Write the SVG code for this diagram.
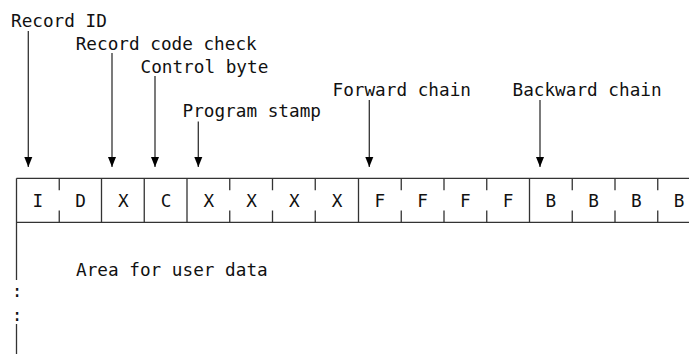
<svg xmlns="http://www.w3.org/2000/svg" width="689" height="354" viewBox="0 0 689 354">
<style>
text{font-family:"DejaVu Sans Mono","Liberation Mono",monospace;font-size:17.7px;fill:#111}
.c{text-anchor:middle}
.ln{stroke:#333;stroke-width:1.3;fill:none}
.ar{stroke:#333;stroke-width:1.3;fill:none;marker-end:url(#ah)}
</style>
<defs>
<marker id="ah" markerUnits="userSpaceOnUse" markerWidth="10" markerHeight="9" refX="10" refY="4.5" orient="auto">
<path d="M0,0.5 L10,4.5 L0,8.5 z" fill="#000"/>
</marker>
</defs>
<rect width="689" height="354" fill="#fff"/>
<g id="labels">
<text x="11" y="26.8">Record ID</text>
<text x="75.7" y="49.5">Record code check</text>
<text x="140.5" y="72.5">Control byte</text>
<text x="182.5" y="116.8">Program stamp</text>
<text x="332.5" y="95.7">Forward chain</text>
<text x="512.5" y="95.7">Backward chain</text>
</g>
<g id="connectors">
<line class="ar" x1="28.3" y1="31" x2="28.3" y2="167"/>
<line class="ar" x1="112" y1="53" x2="112" y2="167"/>
<line class="ar" x1="155" y1="76" x2="155" y2="167"/>
<line class="ar" x1="198.3" y1="121.5" x2="198.3" y2="167"/>
<line class="ar" x1="369.3" y1="100" x2="369.3" y2="167"/>
<line class="ar" x1="540" y1="100" x2="540" y2="167"/>
</g>
<g id="record">
<line class="ln" x1="16.5" y1="178.3" x2="689" y2="178.3"/>
<line class="ln" x1="16.5" y1="222.3" x2="689" y2="222.3"/>
<line class="ln" x1="16.5" y1="178.3" x2="16.5" y2="280"/>
<line class="ln" x1="16.5" y1="324" x2="16.5" y2="354"/>
<path class="ln" d="M101.5,178.3V222.3 M144.25,178.3V222.3 M187,178.3V222.3 M358.5,178.3V222.3 M529.5,178.3V222.3"/>
<path class="ln" d="M59.25,178.3v12 M59.25,210.5v11.8 M229.75,178.3v12 M229.75,210.5v11.8 M272.5,178.3v12 M272.5,210.5v11.8 M315.25,178.3v12 M315.25,210.5v11.8 M401.25,178.3v12 M401.25,210.5v11.8 M444,178.3v12 M444,210.5v11.8 M486.75,178.3v12 M486.75,210.5v11.8 M572.25,178.3v12 M572.25,210.5v11.8 M615,178.3v12 M615,210.5v11.8 M657.75,178.3v12 M657.75,210.5v11.8"/>
<text class="c" x="37.9" y="207.3">I</text>
<text class="c" x="80.6" y="207.3">D</text>
<text class="c" x="123.4" y="207.3">X</text>
<text class="c" x="166.1" y="207.3">C</text>
<text class="c" x="208.9" y="207.3">X</text>
<text class="c" x="251.6" y="207.3">X</text>
<text class="c" x="294.4" y="207.3">X</text>
<text class="c" x="337.1" y="207.3">X</text>
<text class="c" x="379.9" y="207.3">F</text>
<text class="c" x="422.6" y="207.3">F</text>
<text class="c" x="465.4" y="207.3">F</text>
<text class="c" x="508.1" y="207.3">F</text>
<text class="c" x="550.9" y="207.3">B</text>
<text class="c" x="593.6" y="207.3">B</text>
<text class="c" x="636.4" y="207.3">B</text>
<text class="c" x="679.1" y="207.3">B</text>
<text x="76" y="276">Area for user data</text>
<text class="c" x="17" y="297.3">:</text>
<text class="c" x="17" y="320.5">:</text>
</g>
</svg>
